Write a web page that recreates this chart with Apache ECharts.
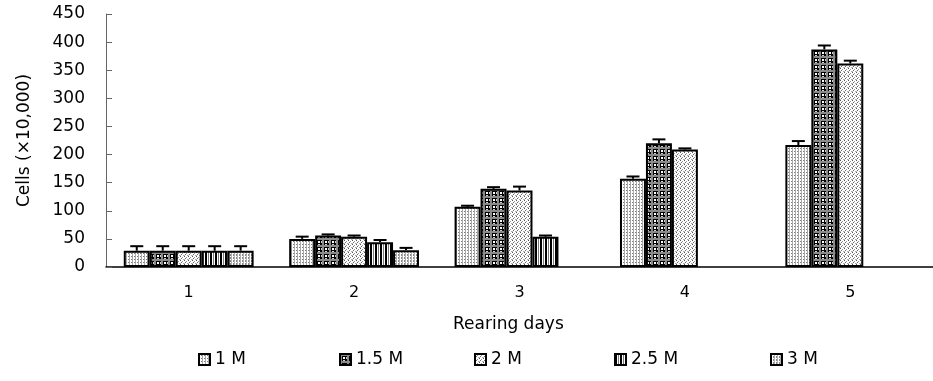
<!DOCTYPE html>
<html>
<head>
<meta charset="utf-8">
<script src="https://cdn.jsdelivr.net/npm/echarts@6/dist/echarts.min.js"></script>
<style>
  html, body { margin: 0; padding: 0; background: #fff; }
  #chart { width: 933px; height: 381px; }
</style>
</head>
<body>
<div id="chart"></div>
<script>
// Rearing days on the x axis
const categories = ['1', '2', '3', '4', '5'];
const seriesNames = ['1 M', '1.5 M', '2 M', '2.5 M', '3 M'];

// Mean cell counts (x10,000) per rearing day
const cells1M  = [29, 50, 107, 157, 217];
const cells15M = [29, 56, 139, 220, 387];
const cells2M  = [29, 54, 136, 209, 362];
const cells25M = [29, 44, 54, null, null];
const cells3M  = [29, 30, null, null, null];

// Error bar heights (upper half)
const err1M  = [8, 4, 2, 4, 7];
const err15M = [8, 2, 3, 7, 7];
const err2M  = [8, 2, 7, 2, 5];
const err25M = [8, 4, 2, null, null];
const err3M  = [8, 4, null, null, null];

// Y axis ticks
const yMin = 0, yMax = 450, yStep = 50;

const FONT = 'DejaVu Sans';
const BAR_RATIO = 0.157;

function makePattern(w, h, draw) {
  const c = document.createElement('canvas');
  c.width = w; c.height = h;
  const ctx = c.getContext('2d');
  ctx.fillStyle = '#fff';
  ctx.fillRect(0, 0, w, h);
  draw(ctx);
  return { image: c, repeat: 'repeat' };
}
function px(ctx, color, x, y, w, h) { ctx.fillStyle = color; ctx.fillRect(x, y, w || 1, h || 1); }

const patterns = [
  // light dotted grid
  makePattern(3, 3, ctx => { px(ctx, '#a8a8a8', 0, 0, 1, 3); px(ctx, '#7a7a7a', 2, 1); }),
  // dark plaid
  makePattern(7, 7, ctx => {
    px(ctx, '#000', 0, 0, 7, 7);
    px(ctx, '#8a8a8a', 0, 0, 7, 2); px(ctx, '#8a8a8a', 0, 0, 2, 7);
    px(ctx, '#fff', 3, 3, 2, 2);
    px(ctx, '#d0d0d0', 6, 3, 1, 2); px(ctx, '#d0d0d0', 3, 6, 2, 1);
  }),
  // stipple
  makePattern(4, 4, ctx => {
    px(ctx, '#555', 0, 0); px(ctx, '#999', 2, 1); px(ctx, '#666', 1, 2);
    px(ctx, '#aaa', 3, 3); px(ctx, '#bbb', 0, 3);
  }),
  // vertical stripes
  makePattern(5, 1, ctx => {
    px(ctx, '#000', 0, 0, 2, 1); px(ctx, '#7a7a7a', 3, 0); px(ctx, '#fff', 4, 0);
  }),
  // light dotted grid (variant)
  makePattern(3, 3, ctx => { px(ctx, '#b0b0b0', 0, 0, 1, 3); px(ctx, '#888', 2, 0); px(ctx, '#888', 2, 2); })
];

const values = [cells1M, cells15M, cells2M, cells25M, cells3M];
const errors = [err1M, err15M, err2M, err25M, err3M];

const barSeries = seriesNames.map((name, s) => ({
  name: name,
  type: 'bar',
  data: values[s],
  barWidth: (BAR_RATIO * 100) + '%',
  barGap: '0%',
  itemStyle: { color: patterns[s], borderColor: '#000', borderWidth: 2 },
  emphasis: { disabled: true },
  animation: false
}));

const errData = [];
values.forEach((arr, s) => arr.forEach((v, i) => {
  if (v != null && errors[s][i] != null) errData.push([i, v, errors[s][i], s]);
}));

const errSeries = {
  type: 'custom',
  data: errData,
  z: 5,
  animation: false,
  renderItem: function (params, api) {
    const cat = api.value(0), v = api.value(1), e = api.value(2), s = api.value(3);
    const band = api.size([1, 0])[0];
    const bw = band * BAR_RATIO;
    const base = api.coord([cat, v]);
    const top = api.coord([cat, v + e]);
    const x = base[0] + (s - (seriesNames.length - 1) / 2) * bw;
    return {
      type: 'group',
      children: [
        { type: 'line', shape: { x1: x, y1: base[1], x2: x, y2: top[1] }, style: { stroke: '#000', lineWidth: 2 } },
        { type: 'line', shape: { x1: x - 6.5, y1: top[1], x2: x + 6.5, y2: top[1] }, style: { stroke: '#000', lineWidth: 2 } }
      ]
    };
  }
};

const legendLeft = [193, 334, 469, 609, 765];

const option = {
  backgroundColor: '#fff',
  animation: false,
  grid: { left: 106, top: 14, bottom: 114, right: -6 },
  legend: seriesNames.map((n, i) => ({
    data: [n],
    left: legendLeft[i],
    top: 346,
    itemWidth: 11,
    itemHeight: 11,
    itemGap: 0,
    icon: 'rect',
    selectedMode: false,
    textStyle: { fontFamily: FONT, fontSize: 17, color: '#000', padding: [0, 0, 0, 0] }
  })),
  xAxis: {
    type: 'category',
    data: categories,
    axisLine: { lineStyle: { color: '#000', width: 1.5 } },
    axisTick: { inside: true, length: 6, lineStyle: { color: '#777' } },
    axisLabel: { fontFamily: FONT, fontSize: 16, color: '#000', margin: 18 }
  },
  yAxis: {
    type: 'value',
    min: yMin, max: yMax, interval: yStep,
    name: 'Cells (×10,000)',
    nameLocation: 'middle',
    nameRotate: 90,
    nameGap: 73,
    nameTextStyle: { fontFamily: FONT, fontSize: 17, color: '#000' },
    splitLine: { show: false },
    axisLine: { show: true, lineStyle: { color: '#666', width: 1 } },
    axisTick: { show: true, inside: true, length: 6, lineStyle: { color: '#666' } },
    axisLabel: { fontFamily: FONT, fontSize: 17, color: '#000', margin: 21 }
  },
  graphic: [{
    type: 'text',
    left: 453,
    top: 316,
    style: { text: 'Rearing days', font: '17px "' + FONT + '"', fill: '#000' }
  }],
  series: barSeries.concat([errSeries])
};

const chart = echarts.init(document.getElementById('chart'), null, { renderer: 'canvas' });
chart.setOption(option);
</script>
</body>
</html>
